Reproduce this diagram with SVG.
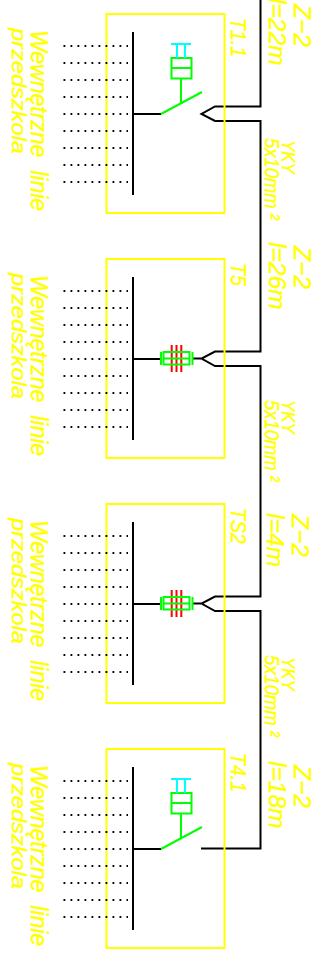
<svg xmlns="http://www.w3.org/2000/svg" width="327" height="966" viewBox="0 0 327 966">
<style>
text{font-family:"Liberation Sans",Arial,sans-serif;font-style:italic;fill:#ffff00;stroke:#ffff00;stroke-width:.4}
.w{font-size:23px}.p{font-size:23.600px}.t{font-size:19.500px}.z{font-size:24.500px}.c{font-size:18.400px}.y{font-size:16.800px}
.box{fill:none;stroke:#ffff00;stroke-width:2}
.k{fill:none;stroke:#000;stroke-width:2}
.g{fill:none;stroke:#00ff00;stroke-width:2}
.cy{fill:none;stroke:#00ffff;stroke-width:2}
.r{fill:none;stroke:#ff0000;stroke-width:2}
.d{fill:none;stroke:#000;stroke-width:2;stroke-dasharray:1.800 5.200}
</style>
<defs>
<g id="base">
<rect class="box" x="106.500" y="14" width="118" height="199"/>
<path class="k" d="M133 32V195"/>
<path class="d" d="M63.500 46H128M63.500 63H128M63.500 80H128M63.500 97H128M63.500 114H128M63.500 131H128M63.500 148H128M63.500 165H128M63.500 182H128"/>
<path class="k" d="M133 114H161"/>
<text class="w" transform="translate(31,30) rotate(90)" xml:space="preserve">Wewnętrzne  linie</text>
<text class="p" transform="translate(12,28) rotate(90) scale(1,.85)">przedszkola</text>
</g>
<g id="sw">
<path class="g" d="M161 114L202 92M181 78.500V103M171.500 58h20v20.500h-20zM171.500 68h20"/>
<path class="cy" d="M171 44H191M177 44V58M185 44V58"/>
</g>
<g id="br">
<path class="k" d="M193 358.500H201"/>
<path class="r" d="M171.700 345V372M176.500 345V372M181.300 345V372"/>
<path class="g" d="M163.500 352h26v12.500h-26zM163.500 358.500h26M161 352V365M192.500 352V365"/>
</g>
</defs>
<g id="connectors">
<path class="k" d="M260.500 0V106.500H215L201.500 114L215 121H260.500V351.500H215L201.500 358.500L215 366H260.500V596.500H215L201.500 603.500L215 611H260.500V848.500H201"/>
</g>
<g id="node-t11"><use href="#base"/><use href="#sw"/><text class="t" transform="translate(231,18) rotate(90) scale(1,1.150)">T1.1</text></g>
<g id="node-t5"><use href="#base" y="245"/><use href="#br"/><text class="t" transform="translate(231,263) rotate(90) scale(1,1.150)">T5</text></g>
<g id="node-ts2"><use href="#base" y="490"/><use href="#br" y="245"/><text class="t" transform="translate(231,508) rotate(90) scale(1,1.150)">TS2</text></g>
<g id="node-t41"><use href="#base" y="735"/><use href="#sw" y="735"/><text class="t" transform="translate(231,753) rotate(90) scale(1,1.150)">T4.1</text></g>
<g id="labels">
<text class="z" transform="translate(294,4) rotate(90)">Z−2</text>
<text class="z" transform="translate(269,-2) rotate(90)">l=22m</text>
<text class="y" transform="translate(282,140) rotate(90) scale(1,1.100)">YKY</text>
<text class="c" transform="translate(265,138) rotate(90) scale(1,1.100)">5x10mm ²</text>
<text class="z" transform="translate(294,246) rotate(90)">Z−2</text>
<text class="z" transform="translate(269,242) rotate(90)">l=26m</text>
<text class="y" transform="translate(282,400) rotate(90) scale(1,1.100)">YKY</text>
<text class="c" transform="translate(265,400) rotate(90) scale(1,1.100)">5x10mm ²</text>
<text class="z" transform="translate(292,514) rotate(90)">Z−2</text>
<text class="z" transform="translate(267,513) rotate(90)">l=4m</text>
<text class="y" transform="translate(282,657) rotate(90) scale(1,1.100)">YKY</text>
<text class="c" transform="translate(265,655) rotate(90) scale(1,1.100)">5x10mm ²</text>
<text class="z" transform="translate(294,765) rotate(90)">Z−2</text>
<text class="z" transform="translate(269,761) rotate(90)">l=18m</text>
</g>
</svg>
